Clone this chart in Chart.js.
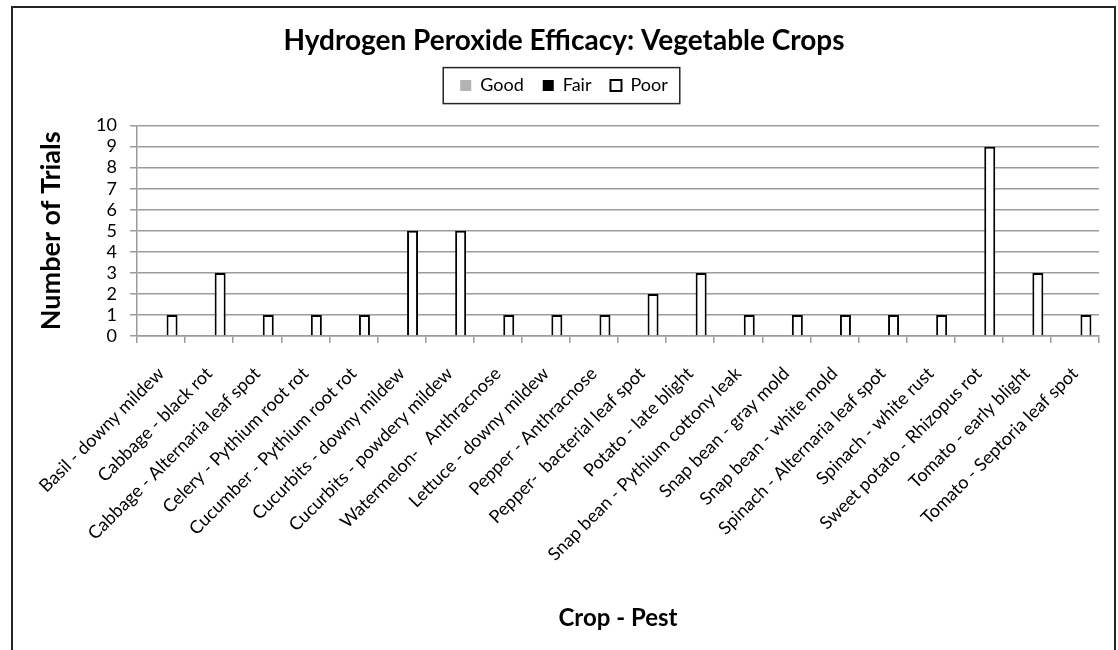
<!DOCTYPE html>
<html>
<head>
<meta charset="utf-8">
<script src="https://cdn.jsdelivr.net/npm/chart.js@4"></script>
<style>
  body { margin: 0; background: #fff; }
  #wrap { position: relative; width: 1118px; height: 650px; overflow: hidden; }
  #frame { position: absolute; left: 11px; top: 6px; width: 1105px; height: 720px;
           border: 2px solid #262626; box-sizing: border-box; }
  canvas { position: absolute; left: 0; top: 0; }
</style>
</head>
<body>
<div id="wrap">
  <canvas id="chart" width="1118" height="650"></canvas>
  <div id="frame"></div>
</div>
<script>
const categories = [
  'Basil - downy mildew', 'Cabbage - black rot', 'Cabbage - Alternaria leaf spot',
  'Celery - Pythium root rot', 'Cucumber - Pythium root rot', 'Cucurbits - downy mildew',
  'Cucurbits - powdery mildew', 'Watermelon-   Anthracnose', 'Lettuce - downy mildew',
  'Pepper - Anthracnose', 'Pepper-  bacterial leaf spot', 'Potato - late blight',
  'Snap bean - Pythium cottony leak', 'Snap bean - gray mold', 'Snap bean - white mold',
  'Spinach - Alternaria leaf spot', 'Spinach - white rust', 'Sweet potato - Rhizopus rot',
  'Tomato - early blight', 'Tomato - Septoria leaf spot'
];
const good = [0, 0, 0, 0, 0, 0, 0, 0, 0, 0, 0, 0, 0, 0, 0, 0, 0, 0, 0, 0];
const fair = [0, 0, 0, 0, 0, 0, 0, 0, 0, 0, 0, 0, 0, 0, 0, 0, 0, 0, 0, 0];
const poor = [1, 3, 1, 1, 1, 5, 5, 1, 1, 1, 2, 3, 1, 1, 1, 1, 1, 9, 3, 1];
const yTicks = [0, 1, 2, 3, 4, 5, 6, 7, 8, 9, 10];

const FONT = 'Lato';
const gridGray = '#9c9c9c';

// box round the legend, like the spreadsheet one
const legendFrame = {
  id: 'legendFrame',
  afterDraw(chart) {
    const boxes = chart.legend.legendHitBoxes;
    if (!boxes || !boxes.length) return;
    const first = boxes[0], last = boxes[boxes.length - 1];
    const x0 = first.left - 17, x1 = last.left + last.width + 12;
    const cy = first.top + first.height / 2;
    const c = chart.ctx;
    c.save();
    c.strokeStyle = '#262626';
    c.lineWidth = 1.5;
    c.strokeRect(x0, cy - 18, x1 - x0, 36);
    c.restore();
  }
};

new Chart(document.getElementById('chart'), {
  type: 'bar',
  data: {
    labels: categories,
    datasets: [
      { label: 'Good', data: good, backgroundColor: '#b3b3b3', borderWidth: 0 },
      { label: 'Fair', data: fair, backgroundColor: '#000000', borderWidth: 0 },
      { label: 'Poor', data: poor, backgroundColor: '#ffffff', borderColor: '#000000', borderWidth: 2 }
    ]
  },
  options: {
    responsive: false,
    animation: false,
    categoryPercentage: 0.686,
    barPercentage: 1,
    layout: { padding: { left: 29, right: 19, top: 0, bottom: 14 } },
    plugins: {
      title: {
        display: true,
        text: 'Hydrogen Peroxide Efficacy: Vegetable Crops',
        color: '#000',
        font: { family: FONT, size: 28, weight: 'bold' },
        padding: { top: 24, bottom: 0 }
      },
      // empty spacer between legend and plot
      subtitle: {
        display: true,
        text: '',
        weight: 500,
        font: { family: FONT, size: 10 },
        padding: { top: 9, bottom: 0 }
      },
      legend: {
        position: 'top',
        labels: {
          color: '#000',
          font: { family: FONT, size: 18 },
          boxWidth: 11,
          boxHeight: 11,
          padding: 19
        }
      },
      tooltip: { enabled: false }
    },
    scales: {
      x: {
        grid: { drawOnChartArea: false, drawTicks: true, tickLength: 7, color: gridGray, lineWidth: 1.5 },
        border: { color: gridGray, width: 1.5 },
        ticks: { color: '#000', font: { family: FONT, size: 18 }, minRotation: 45, maxRotation: 45,
                 autoSkip: false, padding: 20, labelOffset: 0 },
        title: { display: true, text: 'Crop - Pest', color: '#000', font: { family: FONT, size: 24, weight: 'bold' },
                 padding: { top: 0, bottom: 3 } },
        afterFit(scale) { scale.height = 650 - 14 - 336; }
      },
      y: {
        min: 0,
        max: 10,
        afterBuildTicks(scale) { scale.ticks = yTicks.map(v => ({ value: v })); },
        grid: { color: gridGray, lineWidth: 1.5, tickLength: 7 },
        border: { color: gridGray, width: 1.5 },
        ticks: { color: '#000', font: { family: FONT, size: 18 }, padding: 13, autoSkip: false },
        title: { display: true, text: 'Number of Trials', color: '#000', font: { family: FONT, size: 27, weight: 'bold' },
                 padding: { top: 6, bottom: 0 } },
        afterFit(scale) { scale.width = 137 - 29; }
      }
    }
  },
  plugins: [legendFrame]
});
</script>
</body>
</html>
